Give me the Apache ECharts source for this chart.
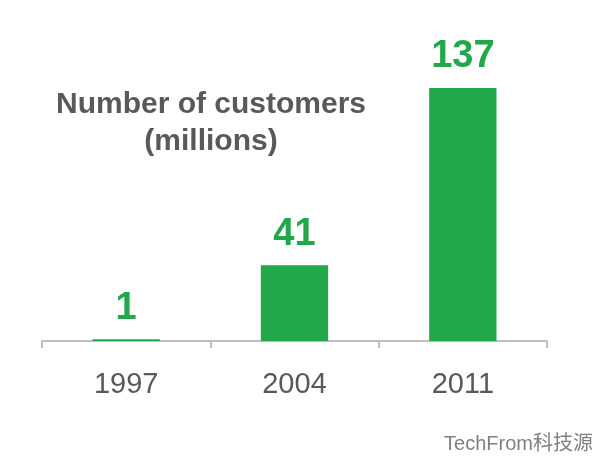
<!DOCTYPE html>
<html><head><meta charset="utf-8">
<script src="https://cdn.jsdelivr.net/npm/echarts@6/dist/echarts.min.js"></script>
<style>html,body{margin:0;padding:0;background:#fff}#c{width:600px;height:456px}</style>
</head><body><div id="c"></div>
<script>
var categories = ['1997', '2004', '2011'];
var customers = [1, 41, 137];
var titleLines = ['Number of customers', '(millions)'];
var watermark = 'TechFrom科技源';

var chart = echarts.init(document.getElementById('c'));
chart.setOption({
  animation: false,
  backgroundColor: '#ffffff',
  grid: { left: 42, right: 53, top: 45.5, bottom: 115 },
  xAxis: {
    type: 'category',
    data: categories,
    axisLine: { lineStyle: { color: '#bfbfbf', width: 2 } },
    axisTick: { show: true, length: 7, lineStyle: { color: '#bfbfbf', width: 2 } },
    axisLabel: { color: '#595959', fontSize: 29, fontFamily: 'Liberation Sans, Arial, sans-serif', margin: 29 }
  },
  yAxis: { type: 'value', min: 0, max: 160, show: false, splitLine: { show: false } },
  series: [{
    type: 'bar',
    data: customers,
    barWidth: '40%',
    itemStyle: { color: '#22a84a' },
    label: {
      show: true, position: 'top', distance: 12,
      color: '#22a84a', fontSize: 38, fontWeight: 'bold',
      fontFamily: 'Liberation Sans, Arial, sans-serif'
    }
  }],
  graphic: [{
    type: 'text', x: 211, y: 86,
    style: {
      text: titleLines.join('\n'), align: 'center', textAlign: 'center',
      fill: '#595959', fontSize: 30, fontWeight: 'bold', lineHeight: 37,
      fontFamily: 'Liberation Sans, Arial, sans-serif'
    }
  }, {
    type: 'text', x: 593, y: 434,
    style: { text: watermark, align: 'right', textAlign: 'right', fill: '#808080', fontSize: 20, fontFamily: 'Liberation Sans, Noto Sans CJK SC, sans-serif' }
  }]
});
</script></body></html>
